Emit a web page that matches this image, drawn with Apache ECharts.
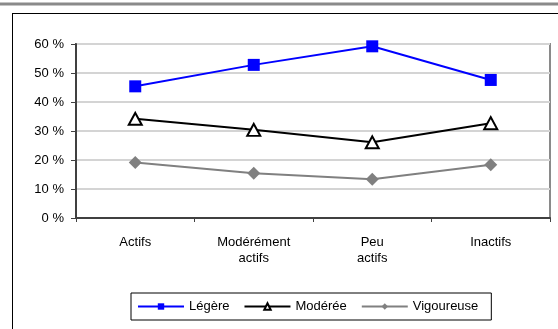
<!DOCTYPE html>
<html>
<head>
<meta charset="utf-8">
<script src="https://cdn.jsdelivr.net/npm/echarts@6/dist/echarts.min.js"></script>
<style>
html,body{margin:0;padding:0;background:#fff;}
#c{width:558px;height:329px;}
</style>
</head>
<body>
<div id="c"></div>
<script>
var categories = ['Actifs', 'Modérément\nactifs', 'Peu\nactifs', 'Inactifs'];
var legere = [45.4, 52.8, 59.2, 47.6];
var moderee = [34.2, 30.4, 26.1, 32.7];
var vigoureuse = [19.1, 15.4, 13.4, 18.4];
var yTicks = [0, 10, 20, 30, 40, 50, 60];

var chart = echarts.init(document.getElementById('c'), null, {renderer: 'canvas'});
var font = 'Liberation Sans, Arial, sans-serif';
chart.setOption({
  animation: false,
  backgroundColor: '#fff',
  textStyle: {fontFamily: font},
  graphic: [
    {type: 'line', shape: {x1: 0, y1: 4, x2: 558, y2: 4}, style: {stroke: '#8a8a8a', lineWidth: 3}, z: -1},
    {type: 'line', shape: {x1: 12, y1: 13.5, x2: 558, y2: 13.5}, style: {stroke: '#000', lineWidth: 1}, z: -1},
    {type: 'line', shape: {x1: 12.5, y1: 13, x2: 12.5, y2: 329}, style: {stroke: '#000', lineWidth: 1}, z: -1}
  ],
  grid: {
    left: 76, top: 44, right: 8, bottom: 111,
    show: true, borderColor: '#8a8a8a', borderWidth: 2, backgroundColor: '#fff'
  },
  legend: {
    left: 131, top: 293,
    padding: [7, 13, 7, 6],
    borderColor: '#000', borderWidth: 1,
    itemWidth: 46, itemHeight: 8, itemGap: 14,
    textStyle: {fontFamily: font, fontSize: 13, color: '#000'},
    data: ['Légère', 'Modérée', 'Vigoureuse']
  },
  xAxis: {
    type: 'category',
    data: categories,
    boundaryGap: true,
    axisLine: {lineStyle: {color: '#404040', width: 2}},
    axisTick: {show: true, length: 4, alignWithLabel: false, lineStyle: {color: '#404040', width: 1}},
    axisLabel: {color: '#000', fontSize: 13, fontFamily: font, margin: 16, lineHeight: 16, interval: 0},
    splitLine: {show: false}
  },
  yAxis: {
    type: 'value',
    min: 0, max: 60, interval: 10,
    axisLine: {show: true, lineStyle: {color: '#404040', width: 2}},
    axisTick: {show: true, length: 5, lineStyle: {color: '#404040', width: 1}},
    axisLabel: {color: '#000', fontSize: 13, fontFamily: font, margin: 12,
      formatter: function (v) { return v + ' %'; }},
    splitLine: {show: true, lineStyle: {color: '#d4d4d4', width: 2}}
  },
  series: [
    {
      name: 'Légère', type: 'line', data: legere,
      symbol: 'rect', symbolSize: 12,
      lineStyle: {color: '#0000ff', width: 2},
      itemStyle: {color: '#0000ff', borderColor: '#0000ff', borderWidth: 0}
    },
    {
      name: 'Modérée', type: 'line', data: moderee,
      symbol: 'triangle', symbolSize: [13, 12],
      lineStyle: {color: '#000', width: 2},
      itemStyle: {color: '#fff', borderColor: '#000', borderWidth: 2}
    },
    {
      name: 'Vigoureuse', type: 'line', data: vigoureuse,
      symbol: 'diamond', symbolSize: [13, 13],
      lineStyle: {color: '#808080', width: 2},
      itemStyle: {color: '#808080', borderColor: '#808080', borderWidth: 0}
    }
  ]
});
</script>
</body>
</html>
